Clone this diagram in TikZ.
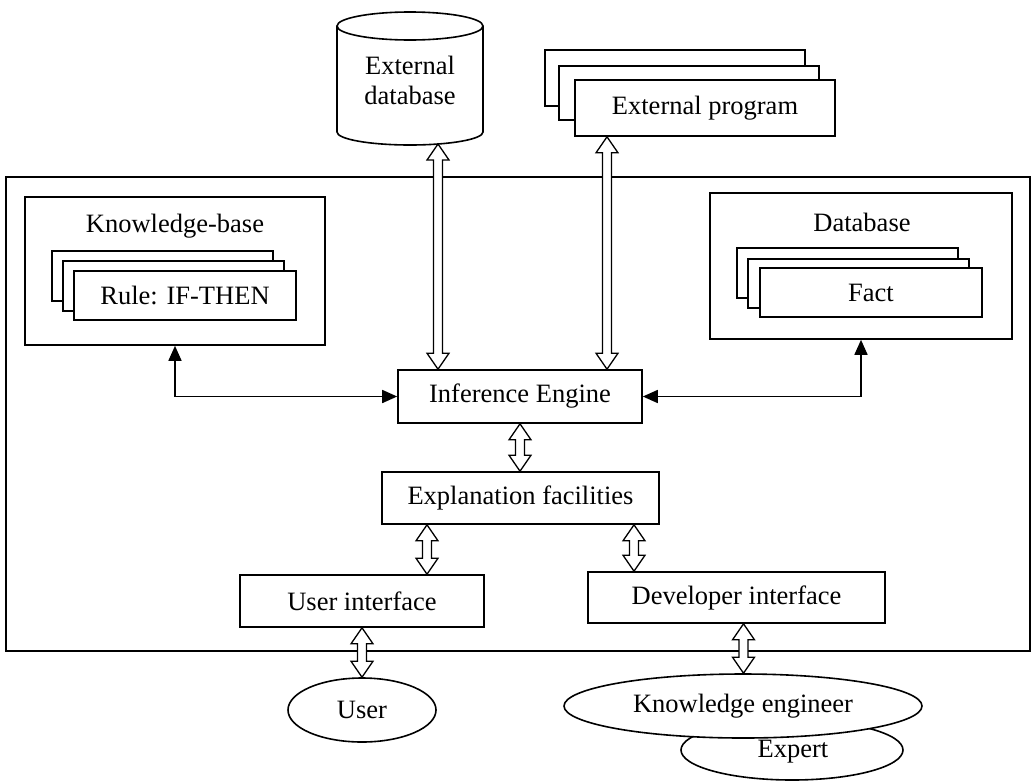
\documentclass[tikz,border=0pt]{standalone}
\usepackage{fontspec}
\setmainfont{Liberation Serif}
\usetikzlibrary{arrows.meta,calc,shapes.geometric}
\begin{document}
\begin{tikzpicture}[x=1pt,y=-1pt,
  every node/.style={font=\fontsize{26.5}{30}\selectfont},
  box/.style={draw, line width=1.6pt, fill=white, inner sep=0pt},
  oval/.style={draw, ellipse, line width=1.6pt, fill=white, inner sep=0pt},
  title/.style={inner sep=0pt},
  link/.style={line width=1.6pt, {Triangle[length=15pt,width=13pt]}-{Triangle[length=15pt,width=13pt]}},
  hollow/.style={draw, line width=1.3pt, fill=white, to path={
    let \p1=(\tikztostart), \p2=(\tikztotarget) in
    (\x1,\y1) -- (\x1+11pt,\y1-16pt) -- (\x1+4.5pt,\y1-16pt) -- (\x1+4.5pt,\y2+16pt)
    -- (\x1+11pt,\y2+16pt) -- (\x1,\y2) -- (\x1-11pt,\y2+16pt) -- (\x1-4.5pt,\y2+16pt)
    -- (\x1-4.5pt,\y1-16pt) -- (\x1-11pt,\y1-16pt) -- cycle}}
]
\useasboundingbox (0,0) rectangle (1032,782);

% system frame
\node[box, minimum width=1024pt, minimum height=474pt] (sys) at (518,414) {};

% external database (cylinder)
\draw[line width=1.6pt, fill=white] (337,26) -- (337,132)
  arc[start angle=180, end angle=360, x radius=73pt, y radius=13pt] -- (483,26);
\draw[line width=1.6pt, fill=white] (410,26) ellipse [x radius=73pt, y radius=14pt];
\node[title, align=center] (extdb) at (410,80) {External\\database};
\coordinate (dbport) at (438,144);

% external program (stacked)
\node[box, minimum width=260pt, minimum height=56pt] (ep3) at (675,78) {};
\node[box, minimum width=260pt, minimum height=54pt] (ep2) at (689,93) {};
\node[box, minimum width=260pt, minimum height=56pt] (EP) at (705,108) {External program};
\coordinate (epport) at ([xshift=-98pt]EP.south);

% knowledge base
\node[box, minimum width=300pt, minimum height=148pt] (KB) at (175,271) {};
\node[title] (kbtitle) at (175,226) {Knowledge-base};
\node[box, minimum width=221pt, minimum height=50pt] (r3) at (162.5,276) {};
\node[box, minimum width=221pt, minimum height=50pt] (r2) at (173.5,286) {};
\node[box, minimum width=222pt, minimum height=49pt] (rule) at (185,295.5) {Rule: IF-THEN};

% database
\node[box, minimum width=302pt, minimum height=146pt] (DB) at (861,266) {};
\node[title] (dbtitle) at (862,222) {Database};
\node[box, minimum width=221pt, minimum height=50pt] (f3) at (847.5,273) {};
\node[box, minimum width=221pt, minimum height=49pt] (f2) at (858.5,283.5) {};
\node[box, minimum width=222pt, minimum height=49pt] (fact) at (871,292.5) {Fact};

% core components
\node[box, minimum width=244pt, minimum height=53pt] (IE) at (520,396.5) {Inference Engine};
\node[box, minimum width=277pt, minimum height=52pt] (EF) at (520.5,498) {Explanation facilities};
\node[box, minimum width=244pt, minimum height=52pt] (UI) at (362,601) {User interface};
\node[box, minimum width=297pt, minimum height=51pt] (DI) at (736.5,597.5) {Developer interface};

% people
\node[oval, minimum width=148pt, minimum height=64pt] (user) at (362,710) {User};
\node[oval, minimum width=222pt, minimum height=60pt] (expert) at (792,750) {};
\node[title] (experttext) at (793,752) {Expert};
\node[oval, minimum width=358pt, minimum height=64pt] (KE) at (743,706) {Knowledge engineer};

% connectors
\draw[link] (KB.south) |- (IE.west);
\draw[link] (DB.south) |- (IE.east);

\coordinate (efl) at ([xshift=-93.5pt]EF.south);
\coordinate (efr) at ([xshift=113.5pt]EF.south);
\coordinate (dil) at ([xshift=7pt]DI.south);

\draw[hollow] (dbport) to (dbport |- IE.north);
\draw[hollow] (epport) to (epport |- IE.north);
\draw[hollow] (IE.south) to (EF.north);
\draw[hollow] (efl) to (efl |- UI.north);
\draw[hollow] (efr) to (efr |- DI.north);
\draw[hollow] (UI.south) to (user.north);
\draw[hollow] (dil) to (dil |- KE.north);
\end{tikzpicture}
\end{document}
